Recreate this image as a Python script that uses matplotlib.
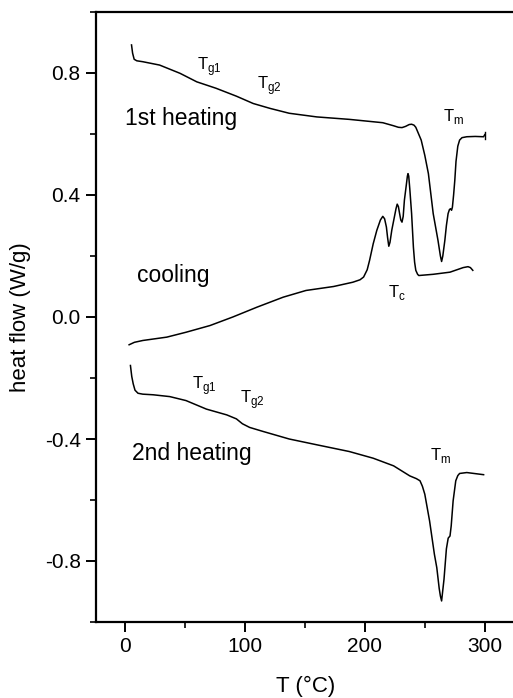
import matplotlib
matplotlib.use("Agg")
import matplotlib.pyplot as plt
from matplotlib.ticker import MultipleLocator, FormatStrFormatter

plt.rcParams['font.family'] = ['Liberation Sans', 'DejaVu Sans']
plt.rcParams['mathtext.fontset'] = 'custom'
plt.rcParams['mathtext.rm'] = 'Liberation Sans'

# DSC traces: temperature (deg C) and heat flow (W/g)
heat1_T = [5.6, 6.5, 7.8, 10, 15, 29, 46, 60, 76, 93, 107, 121, 137, 160, 187,
           215, 224, 228, 231, 234, 237, 239, 241, 242.5, 244, 247, 250, 253,
           257, 261, 263, 264, 265, 266.7, 268, 269.4, 270.5, 271.4, 272.3, 273,
           274, 275, 276, 277.5, 279, 281, 285, 292, 299, 300]
heat1_q = [0.892, 0.865, 0.845, 0.840, 0.837, 0.826, 0.799, 0.771, 0.750, 0.724,
           0.700, 0.684, 0.668, 0.656, 0.648, 0.637, 0.627, 0.622, 0.621, 0.625,
           0.631, 0.632, 0.629, 0.622, 0.608, 0.580, 0.530, 0.470, 0.339, 0.251,
           0.200, 0.182, 0.200, 0.251, 0.300, 0.339, 0.352, 0.355, 0.350, 0.360,
           0.400, 0.448, 0.510, 0.560, 0.580, 0.588, 0.591, 0.592, 0.591, 0.598]

cool_T = [3.6, 8, 15, 35, 51, 71, 90, 110, 132, 151, 174, 190, 196, 199, 202,
          204, 207, 210, 213, 215, 216.5, 218, 219, 220, 221, 222.5, 224, 226,
          227, 228, 229, 230, 231, 232, 233, 234.5, 235.5, 236, 236.6, 237.5,
          239, 240.5, 241.5, 242.5, 244, 245, 257, 271, 282, 286, 288, 290]
cool_q = [-0.091, -0.083, -0.077, -0.066, -0.050, -0.028, 0.000, 0.032, 0.065,
          0.087, 0.100, 0.114, 0.122, 0.131, 0.155, 0.186, 0.240, 0.284, 0.318,
          0.330, 0.322, 0.295, 0.260, 0.232, 0.245, 0.285, 0.315, 0.355, 0.370,
          0.362, 0.339, 0.318, 0.311, 0.330, 0.383, 0.430, 0.462, 0.470, 0.462,
          0.420, 0.339, 0.229, 0.180, 0.153, 0.140, 0.136, 0.140, 0.147, 0.162,
          0.165, 0.162, 0.153]

heat2_T = [4.7, 5.8, 7, 8.5, 11, 15, 23.6, 37.5, 51, 68, 85, 93, 98, 104, 115,
           137, 160, 187, 207, 224, 237.5, 243, 246, 248, 250, 254, 258, 260,
           262, 263, 264, 266, 268, 269.5, 271, 272, 273.6, 275.8, 277.5, 279,
           285, 299]
heat2_q = [-0.159, -0.195, -0.219, -0.240, -0.250, -0.253, -0.255, -0.261,
           -0.274, -0.302, -0.321, -0.334, -0.350, -0.362, -0.375, -0.400,
           -0.419, -0.441, -0.463, -0.488, -0.521, -0.530, -0.537, -0.555,
           -0.581, -0.669, -0.778, -0.822, -0.890, -0.915, -0.931, -0.860,
           -0.760, -0.725, -0.718, -0.685, -0.603, -0.537, -0.520, -0.513,
           -0.510, -0.517]

fig = plt.figure(figsize=(5.13, 6.98), dpi=100)
ax = fig.add_axes([96 / 513, 76 / 698, 420 / 513, 610 / 698])

for T, q in [(heat1_T, heat1_q), (cool_T, cool_q), (heat2_T, heat2_q)]:
    ax.plot(T, q, color='black', lw=1.1, solid_joinstyle='round')

# short end marker on the first heating trace
ax.plot([300, 300], [0.582, 0.606], color='black', lw=1.0)

ax.set_xlim(-24, 326)
ax.set_ylim(-1.0, 1.0)
ax.xaxis.set_major_locator(MultipleLocator(100))
ax.xaxis.set_minor_locator(MultipleLocator(50))
ax.yaxis.set_major_locator(MultipleLocator(0.4))
ax.yaxis.set_minor_locator(MultipleLocator(0.2))
ax.yaxis.set_major_formatter(FormatStrFormatter('%.1f'))

ax.spines['right'].set_visible(False)
for s in ['left', 'bottom', 'top']:
    ax.spines[s].set_linewidth(1.6)
ax.tick_params(which='major', direction='out', length=7, width=1.4,
               labelsize=15, pad=4, top=False, right=False)
ax.tick_params(which='minor', direction='out', length=4, width=1.2,
               top=False, right=False)

ax.set_xlabel('T (°C)', fontsize=16, labelpad=14)
ax.set_ylabel('heat flow (W/g)', fontsize=16, labelpad=10)

big = dict(fontsize=16.5, va='center', ha='left')
ax.text(0, 0.65, '1st heating', **big)
ax.text(10, 0.136, 'cooling', **big)
ax.text(6, -0.448, '2nd heating', **big)


def mark(x, y, sub):
    ax.text(x, y, r'T$_{\mathregular{' + sub + '}}$', fontsize=12,
            va='center', ha='left')


mark(60, 0.82, 'g1')
mark(110, 0.76, 'g2')
mark(265, 0.656, 'm')
mark(219, 0.080, 'c')
mark(56, -0.225, 'g1')
mark(96, -0.271, 'g2')
mark(254, -0.455, 'm')

fig.savefig('out.png', dpi=100)
